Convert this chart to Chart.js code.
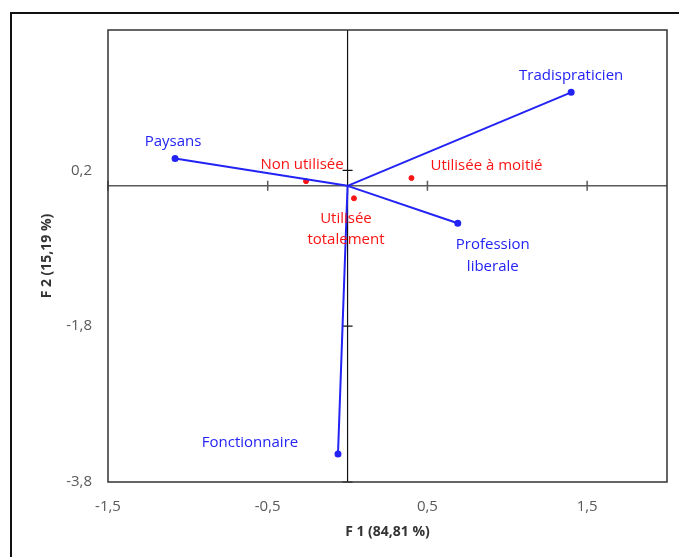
<!DOCTYPE html>
<html>
<head>
<meta charset="utf-8">
<script src="https://cdn.jsdelivr.net/npm/chart.js@4"></script>
<style>
  html, body { margin: 0; padding: 0; background: #fff; overflow: hidden; }
  #wrap { position: relative; width: 679px; height: 557px; }
  #frame { position: absolute; left: 10px; top: 12px; width: 700px; height: 600px; border: 2px solid #111; box-sizing: border-box; }
  canvas { position: absolute; left: 0; top: 0; }
</style>
</head>
<body>
<div id="wrap">
  <div id="frame"></div>
  <canvas id="myChart" width="679" height="557"></canvas>
</div>
<script>
// rows (blue) and columns (red) of the analysis
const rowLabels = ['Tradispraticien', 'Paysans', 'Profession\nliberale', 'Fonctionnaire'];
const rowF1 = [1.4, -1.08, 0.69, -0.06];
const rowF2 = [1.2, 0.35, -0.48, -3.44];

const colLabels = ['Non utilisée', 'Utilisée à moitié', 'Utilisée\ntotalement'];
const colF1 = [-0.26, 0.4, 0.04];
const colF2 = [0.06, 0.1, -0.16];

const xTicks = [-1.5, -0.5, 0.5, 1.5];
const yTicks = [-3.8, -1.8, 0.2];

// label offsets in pixels from the point (text centre)
const rowOffsets = [[0, -17], [-2, -17], [35, 21], [-88, -11]];
const colOffsets = [[-4, -16], [75, -12], [-8, 20]];

const blue = 'rgb(35,35,245)';
const red = 'rgb(250,20,20)';

document.addEventListener("DOMContentLoaded", function () {
    const ctx = document.getElementById('myChart').getContext('2d');

    const fmt = v => Number(v).toFixed(1).replace('.', ',');

    const datasets = [];
    rowLabels.forEach((lab, i) => {
        datasets.push({
            label: lab,
            data: [{x: 0, y: 0}, {x: rowF1[i], y: rowF2[i]}],
            showLine: true,
            borderColor: blue,
            backgroundColor: blue,
            borderWidth: 2,
            pointRadius: [0, 2.5],
            kind: 'row',
            idx: i
        });
    });
    datasets.push({
        label: 'cols',
        data: colF1.map((x, i) => ({x: x, y: colF2[i]})),
        showLine: false,
        borderColor: red,
        backgroundColor: red,
        pointRadius: 2.5,
        kind: 'col'
    });

    const axesPlugin = {
        id: 'axesPlugin',
        beforeDatasetsDraw(chart) {
            const c = chart.ctx;
            const xs = chart.scales.x, ys = chart.scales.y;
            const a = chart.chartArea;
            const x0 = xs.getPixelForValue(0);
            const y0 = ys.getPixelForValue(0);
            c.save();
            // horizontal zero line
            c.strokeStyle = '#5a5a5a';
            c.lineWidth = 1.5;
            c.beginPath();
            c.moveTo(a.left, y0); c.lineTo(a.right, y0);
            xTicks.forEach(v => {
                const px = xs.getPixelForValue(v);
                c.moveTo(px, y0 - 5); c.lineTo(px, y0 + 5);
            });
            c.stroke();
            // vertical zero line
            c.strokeStyle = '#111';
            c.lineWidth = 1.2;
            c.beginPath();
            c.moveTo(x0, a.top); c.lineTo(x0, a.bottom);
            yTicks.forEach(v => {
                const py = ys.getPixelForValue(v);
                c.moveTo(x0 - 5, py); c.lineTo(x0 + 5, py);
            });
            c.stroke();
            // plot box
            c.strokeStyle = '#333';
            c.lineWidth = 1.5;
            c.strokeRect(a.left, a.top, a.right - a.left, a.bottom - a.top);
            c.restore();
        },
        afterDatasetsDraw(chart) {
            const c = chart.ctx;
            c.save();
            c.font = '15px "Open Sans"';
            c.textAlign = 'center';
            c.textBaseline = 'middle';
            chart.data.datasets.forEach((ds, di) => {
                const meta = chart.getDatasetMeta(di);
                if (ds.kind === 'row') {
                    const pt = meta.data[1];
                    const off = rowOffsets[ds.idx];
                    c.fillStyle = blue;
                    rowLabels[ds.idx].split('\n').forEach((line, k) => {
                        c.fillText(line, pt.x + off[0], pt.y + off[1] + k * 22);
                    });
                } else {
                    meta.data.forEach((pt, i) => {
                        const off = colOffsets[i];
                        c.fillStyle = red;
                        colLabels[i].split('\n').forEach((line, k) => {
                            c.fillText(line, pt.x + off[0], pt.y + off[1] + k * 21);
                        });
                    });
                }
            });
            c.restore();
        }
    };

    const config = {
        type: 'scatter',
        data: { datasets: datasets },
        options: {
            responsive: false,
            animation: false,
            layout: { padding: { left: 0, top: 30, right: 12, bottom: 0 } },
            plugins: {
                legend: { display: false },
                tooltip: { enabled: false }
            },
            scales: {
                x: {
                    min: -1.5,
                    max: 2,
                    grid: { display: false, drawTicks: false },
                    border: { display: false },
                    afterBuildTicks: s => { s.ticks = xTicks.map(v => ({value: v})); },
                    afterFit: s => { s.height = 75; },
                    ticks: {
                        padding: 16,
                        color: '#595959',
                        font: { family: 'Open Sans', size: 15 },
                        maxRotation: 0,
                        callback: v => fmt(v)
                    },
                    title: {
                        display: true,
                        text: 'F 1 (84,81 %)',
                        color: '#333',
                        font: { family: 'Open Sans', size: 14, weight: 'bold' },
                        padding: { top: 0, bottom: 17 }
                    }
                },
                y: {
                    min: -3.8,
                    max: 2.0,
                    grid: { display: false, drawTicks: false },
                    border: { display: false },
                    afterBuildTicks: s => { s.ticks = yTicks.map(v => ({value: v})); },
                    afterFit: s => { s.width = 108; },
                    ticks: {
                        padding: 16,
                        color: '#595959',
                        font: { family: 'Open Sans', size: 15 },
                        callback: v => fmt(v)
                    },
                    title: {
                        display: true,
                        text: 'F 2 (15,19 %)',
                        color: '#333',
                        font: { family: 'Open Sans', size: 14, weight: 'bold' },
                        padding: { top: 39, bottom: 0 }
                    }
                }
            }
        },
        plugins: [axesPlugin]
    };

    new Chart(ctx, config);
});
</script>
</body>
</html>
